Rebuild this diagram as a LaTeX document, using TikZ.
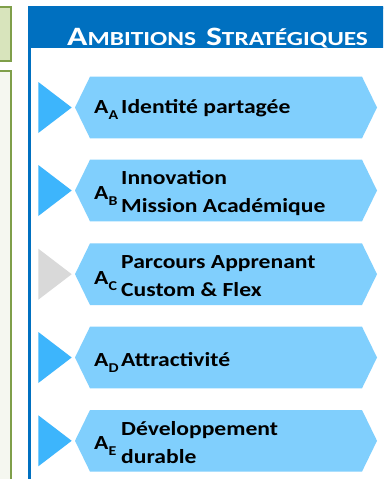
\documentclass[tikz,border=0pt]{standalone}
\usepackage{fontspec}
\setmainfont{Carlito}[FakeStretch=1.18]
\newfontfamily\headfont{Carlito}[FakeStretch=1.27]
\usetikzlibrary{positioning}

\definecolor{headblue}{HTML}{0070C0}
\definecolor{hexblue}{HTML}{80CFFD}
\definecolor{tipblue}{HTML}{3DB5FC}
\definecolor{tipgray}{HTML}{D9D9D9}
\definecolor{leafgreen}{HTML}{7F9F4A}
\definecolor{paleolive}{HTML}{D8E4BC}
\definecolor{paleback}{HTML}{F5F7F0}

\tikzset{
    alabel/.style={font=\bfseries\fontsize{20}{24}\selectfont, anchor=base west, inner sep=0pt},
    ambtext/.style={font=\bfseries\fontsize{20}{28}\selectfont, align=left, anchor=base west, inner sep=0pt},
    headtext/.style={font=\headfont\bfseries, text=white, anchor=base west, inner sep=0pt}
}

\newcommand{\bigc}[1]{{\fontsize{26.5}{28}\selectfont #1}}
\newcommand{\smc}[1]{{\fontsize{20}{22}\selectfont #1}}
\newcommand{\asub}[1]{\raisebox{-6pt}{\fontsize{13.5}{14}\selectfont #1}}

\begin{document}
\begin{tikzpicture}[x=1pt, y=-1pt]
    \useasboundingbox (0,0) rectangle (383,479);
    \clip (0,0) rectangle (383,479);

    % left column (cut off)
    \draw[leafgreen, line width=2pt, fill=paleolive] (-10,7) rectangle (11,61);
    \draw[leafgreen, line width=2pt, fill=paleback] (-10,71) rectangle (11,500);

    % panel and header
    \draw[headblue, line width=3pt, fill=white] (29.5,7) rectangle (420,520);
    \fill[headblue] (28,7) rectangle (420,48);
    \node[headtext] (title) at (67,45)
        {\bigc{A}\smc{MBITIONS}\hspace{10pt}\bigc{S}\smc{TRATÉGIQUES}};

    % ambitions
    \foreach \c/\s/\ya/\yt/\txt/\tip in {
        107.5/A/113.7/113.7/{Identité partagée}/tipblue,
        190.5/B/199.3/212.7/{Innovation\\Mission Académique}/tipblue,
        274.2/C/284/296.7/{Parcours Apprenant\\Custom \& Flex}/tipgray,
        357.5/D/366.7/366.7/{Attractivité}/tipblue,
        440.8/E/449.3/463/{Développement\\durable}/tipblue}
    {
        \fill[hexblue] (75,\c) -- (90,\c-30.8) -- (362,\c-30.8) -- (377,\c)
            -- (362,\c+30.8) -- (90,\c+30.8) -- cycle;
        \fill[\tip] (38.3,\c-25.5) -- (71.7,\c) -- (38.3,\c+25.5) -- cycle;
        \node[alabel] (a\s) at (94,\ya) {A\asub{\s}};
        \node[ambtext] (t\s) at (121,\yt) {\txt};
    }
\end{tikzpicture}
\end{document}
